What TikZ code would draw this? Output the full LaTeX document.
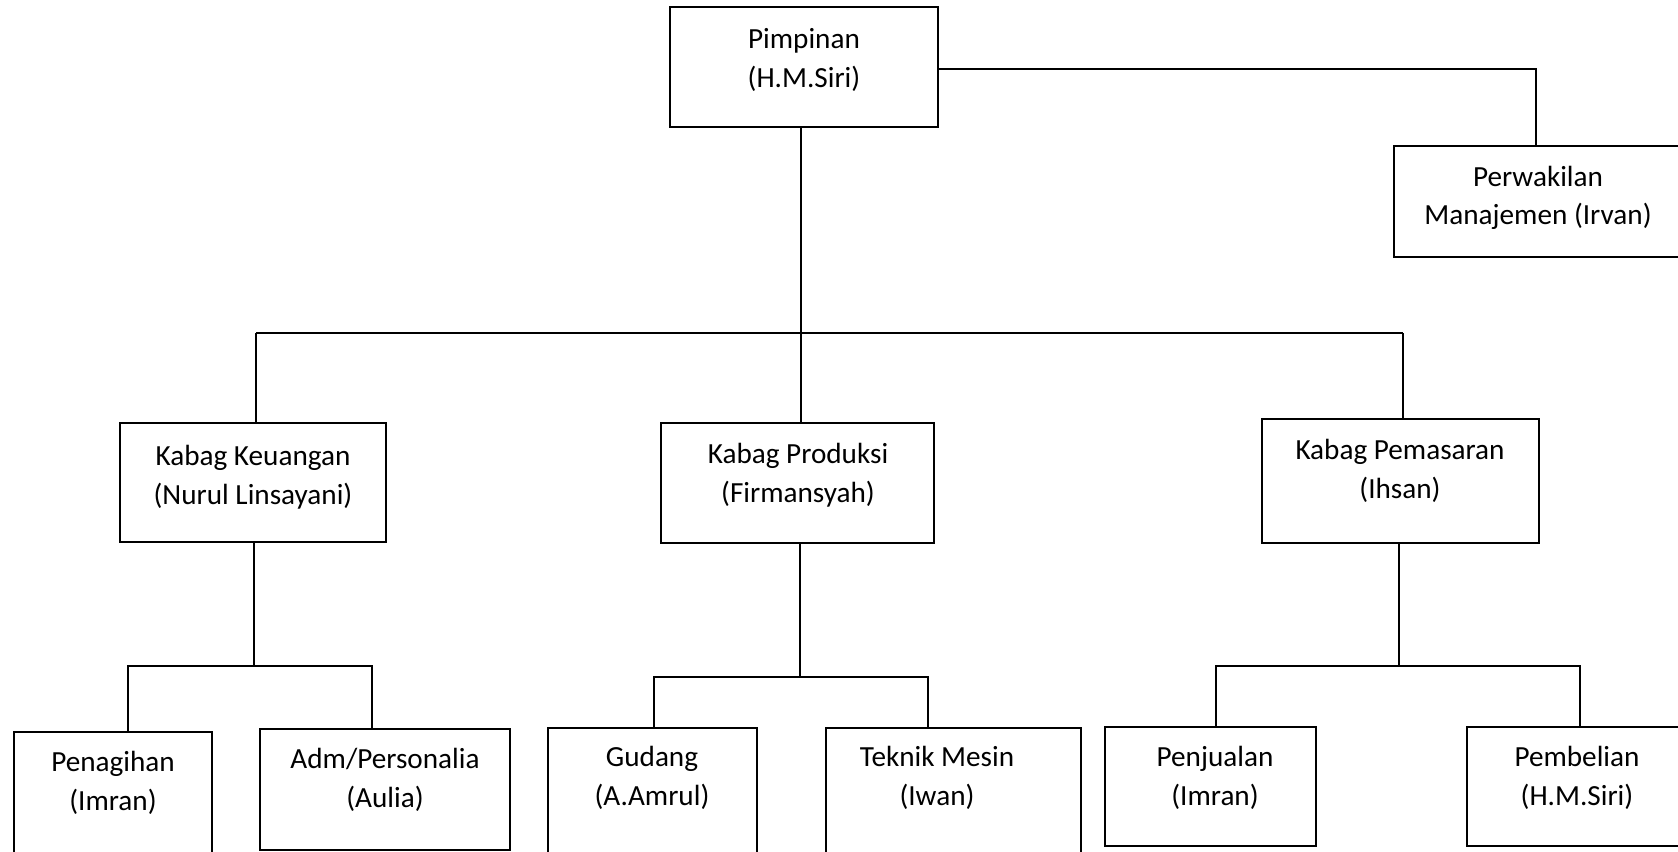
\documentclass[tikz,border=0pt]{standalone}
\usepackage{fontspec}
\setmainfont{Carlito}
\begin{document}
\begin{tikzpicture}[x=0.5pt,y=-0.5pt,
  box/.style 2 args={draw=black,line width=1pt,minimum width=#1*0.5pt,minimum height=#2*0.5pt,inner sep=0pt},
  lbl/.style={align=center,inner sep=0pt,font=\fontsize{14.6pt}{19.3pt}\selectfont},
  conn/.style={draw=black,line width=1pt}]
\useasboundingbox (0,0) rectangle (1678,852);
\fill[white] (0,0) rectangle (1678,852);
\clip (0,0) rectangle (1678,852);
% boxes
\node[box={268}{120}] (pim) at (804,67) {};
\node[box={288}{111}] (per) at (1538,201.5) {};
\node[box={266}{119}] (keu) at (253,482.5) {};
\node[box={273}{120}] (pro) at (797.5,483) {};
\node[box={277}{124}] (pem) at (1400.5,481) {};
\node[box={198}{130}] (pen) at (113,797) {};
\node[box={250}{121}] (adm) at (385,789.5) {};
\node[box={209}{130}] (gud) at (652.5,793) {};
\node[box={255}{130}] (tek) at (953.5,793) {};
\node[box={211}{119}] (pju) at (1210.5,786.5) {};
\node[box={223}{119}] (pbl) at (1578.5,786.5) {};
% labels
\node[lbl] (tpim) at (804,60) {Pimpinan\\(H.M.Siri)};
\node[lbl] (tper) at (1538,198) {Perwakilan\\Manajemen (Irvan)};
\node[lbl] (tkeu) at (253,477) {Kabag Keuangan\\(Nurul Linsayani)};
\node[lbl] (tpro) at (798,475) {Kabag Produksi\\(Firmansyah)};
\node[lbl] (tpem) at (1400,471) {Kabag Pemasaran\\(Ihsan)};
\node[lbl] (tpen) at (113,783) {Penagihan\\(Imran)};
\node[lbl] (tadm) at (385,780) {Adm/Personalia\\(Aulia)};
\node[lbl] (tgud) at (652,778) {Gudang\\(A.Amrul)};
\node[lbl] (ttek) at (937,778) {Teknik Mesin\\(Iwan)};
\node[lbl] (tpju) at (1215,778) {Penjualan\\(Imran)};
\node[lbl] (tpbl) at (1577,778) {Pembelian\\(H.M.Siri)};
% bus coordinates
\coordinate (b0) at (801,333);
\coordinate (bl) at (256,333);
\coordinate (br) at (1403,333);
\coordinate (pk) at (1536,69);
\coordinate (k0) at (254,666);
\coordinate (kl) at (128,666);
\coordinate (kr) at (372,666);
\coordinate (p0) at (800,677);
\coordinate (pl) at (654,677);
\coordinate (pr) at (928,677);
\coordinate (m0) at (1399,666);
\coordinate (ml) at (1216,666);
\coordinate (mr) at (1580,666);
% connectors
\draw[conn] (pim.south -| b0) -- (b0) -- (pro.north -| b0);
\draw[conn] (bl) -- (br);
\draw[conn] (bl) -- (keu.north -| bl);
\draw[conn] (br) -- (pem.north -| br);
\draw[conn] (pim.east |- pk) -- (pk) -- (per.north -| pk);
\draw[conn] (keu.south -| k0) -- (k0);
\draw[conn] (kl |- pen.north) -- (kl) -- (kr) -- (kr |- adm.north);
\draw[conn] (pro.south -| p0) -- (p0);
\draw[conn] (pl |- gud.north) -- (pl) -- (pr) -- (pr |- tek.north);
\draw[conn] (pem.south -| m0) -- (m0);
\draw[conn] (ml |- pju.north) -- (ml) -- (mr) -- (mr |- pbl.north);
\end{tikzpicture}
\end{document}
